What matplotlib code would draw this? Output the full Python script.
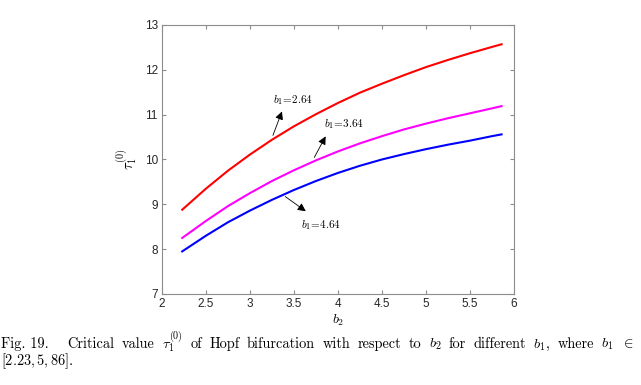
import matplotlib
matplotlib.use("Agg")
import matplotlib.pyplot as plt

plt.rcParams["mathtext.fontset"] = "cm"

# data
b2 = [2.23, 2.5, 2.75, 3.0, 3.25, 3.5, 3.75, 4.0, 4.25, 4.5, 4.75,
      5.0, 5.25, 5.5, 5.75, 5.86]
tau_264 = [8.88, 9.35, 9.75, 10.11, 10.44, 10.74, 11.01, 11.26, 11.49,
           11.69, 11.88, 12.06, 12.22, 12.37, 12.51, 12.57]
tau_364 = [8.25, 8.63, 8.96, 9.25, 9.52, 9.76, 9.98, 10.18, 10.36,
           10.52, 10.67, 10.80, 10.92, 11.03, 11.14, 11.19]
tau_464 = [7.95, 8.30, 8.60, 8.86, 9.10, 9.32, 9.52, 9.70, 9.86,
           10.00, 10.12, 10.23, 10.33, 10.42, 10.52, 10.56]

xticks = [2, 2.5, 3, 3.5, 4, 4.5, 5, 5.5, 6]
xticklabels = ["2", "2.5", "3", "3.5", "4", "4.5", "5", "5.5", "6"]
yticks = [7, 8, 9, 10, 11, 12, 13]

caption_words = ["Fig. 19.", "Critical", "value", r"$\tau_1^{(0)}$", "of", "Hopf",
                 "bifurcation", "with", "respect", "to", r"$b_2$", "for",
                 "different", r"$b_1$,", "where", r"$b_1$", r"$\in$"]
caption_line2 = r"$[2.23, 5, 86]$."

fig = plt.figure(figsize=(6.41, 3.85), dpi=100)
ax = fig.add_axes([0.2527, 0.2364, 0.549, 0.6987])

ax.plot(b2, tau_264, color="red", lw=1.5)
ax.plot(b2, tau_364, color="magenta", lw=1.5)
ax.plot(b2, tau_464, color="blue", lw=1.5)

ax.set_xlim(2, 6)
ax.set_ylim(7, 13)
ax.set_xticks(xticks)
ax.set_xticklabels(xticklabels)
ax.set_yticks(yticks)

grey = "#8c8c8c"
for s in ax.spines.values():
    s.set_color(grey)
    s.set_linewidth(0.8)
ax.tick_params(direction="in", top=True, right=True, length=3,
               color=grey, labelsize=8.5, labelcolor="#262626", pad=3)
for lab in ax.get_xticklabels() + ax.get_yticklabels():
    lab.set_fontfamily("Liberation Sans")

ax.set_xlabel(r"$b_2$", fontsize=10, labelpad=2)
ax.set_ylabel(r"$\tau_1^{(0)}$", fontsize=10.5, labelpad=4)

# annotations
arrow = dict(arrowstyle="-|>", color="black", lw=0.6, mutation_scale=12)
ax.annotate("", xy=(3.375, 11.13), xytext=(3.25, 10.48), arrowprops=arrow)
ax.text(3.49, 11.33, r"$b_1\!=\!2.64$", fontsize=8, ha="center", va="center")
ax.annotate("", xy=(3.875, 10.57), xytext=(3.716, 9.99), arrowprops=arrow)
ax.text(4.07, 10.79, r"$b_1\!=\!3.64$", fontsize=8, ha="center", va="center")
ax.annotate("", xy=(3.66, 8.81), xytext=(3.375, 9.21), arrowprops=arrow)
ax.text(3.81, 8.54, r"$b_1\!=\!4.64$", fontsize=8, ha="center", va="center")

# caption, first line justified across the width
W, H = 641, 385
cap_size = 10.3
texts = [fig.text(0, 1 - 348 / H, w, fontsize=cap_size, family="cmr10",
                  va="baseline", ha="left") for w in caption_words]
fig.canvas.draw()
r = fig.canvas.get_renderer()
widths = [t.get_window_extent(r).width for t in texts]
left, right = 1, 634
gap = (right - left - sum(widths)) / (len(widths) - 1 + 1.5)
x = left
for i, (t, w) in enumerate(zip(texts, widths)):
    t.set_x(x / W)
    x += w + gap * (2.5 if i == 0 else 1)
fig.text(left / W, 1 - 365 / H, caption_line2, fontsize=cap_size,
         family="cmr10", va="baseline", ha="left")

fig.savefig("out.png", dpi=100)
